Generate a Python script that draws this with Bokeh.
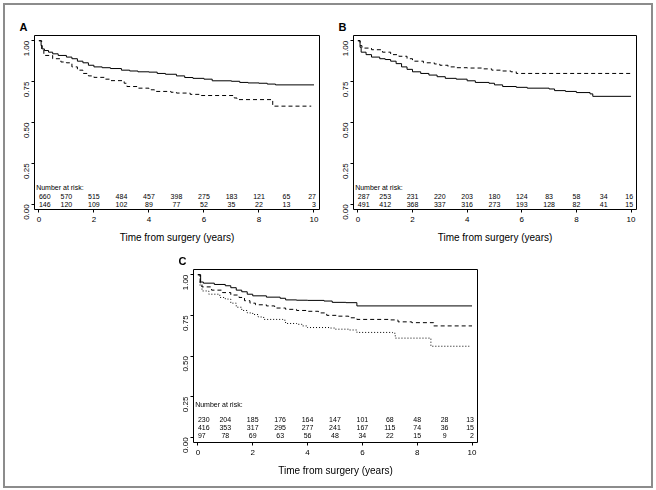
import math
from bokeh.plotting import figure
from bokeh.models import ColumnDataSource, FixedTicker, Range1d, Spacer, NumeralTickFormatter, Div
from bokeh.layouts import column, row
from bokeh.core.properties import value
from bokeh.embed import file_html
from bokeh.resources import INLINE

FONT = "Liberation Sans"

# at-risk time points (years)
risk_years = [0, 1, 2, 3, 4, 5, 6, 7, 8, 9, 10]

# ---- Panel A ----
a_solid_t = [0, 0.08, 0.12, 0.2, 0.35, 0.5, 0.7, 1.0, 1.2, 1.4, 1.6, 1.8, 2.0, 2.3, 2.6, 3.0, 3.3, 3.6, 4.0, 4.3, 4.6, 5.0, 5.3, 5.6, 6.0, 6.3, 7.0, 7.3, 7.6, 8.0, 8.3, 8.6, 10.0]
a_solid_s = [1.0, 0.97, 0.95, 0.94, 0.93, 0.92, 0.91, 0.90, 0.89, 0.875, 0.865, 0.85, 0.84, 0.835, 0.83, 0.82, 0.815, 0.81, 0.808, 0.80, 0.795, 0.785, 0.775, 0.77, 0.765, 0.755, 0.752, 0.745, 0.742, 0.74, 0.735, 0.73, 0.73]
a_dash_t = [0, 0.1, 0.18, 0.5, 0.8, 1.0, 1.2, 1.4, 1.6, 1.8, 2.0, 2.4, 2.6, 3.1, 3.2, 3.6, 4.0, 4.2, 4.8, 5.0, 5.5, 5.9, 7.1, 7.2, 8.5, 9.9]
a_dash_s = [1.0, 0.95, 0.91, 0.89, 0.87, 0.865, 0.84, 0.82, 0.80, 0.785, 0.776, 0.765, 0.756, 0.74, 0.72, 0.71, 0.70, 0.69, 0.685, 0.68, 0.672, 0.665, 0.65, 0.64, 0.60, 0.60]
a_risk_1 = [660, 570, 515, 484, 457, 398, 275, 183, 121, 65, 27]
a_risk_2 = [146, 120, 109, 102, 89, 77, 52, 35, 22, 13, 3]

# ---- Panel B ----
b_solid_t = [0, 0.08, 0.12, 0.3, 0.5, 0.8, 1.0, 1.2, 1.4, 1.6, 1.8, 2.0, 2.3, 2.6, 2.9, 3.2, 3.6, 4.0, 4.3, 4.8, 5.0, 5.3, 5.8, 6.2, 7.0, 7.2, 7.6, 8.0, 8.5, 8.6, 10.0]
b_solid_s = [1.0, 0.96, 0.93, 0.915, 0.90, 0.89, 0.885, 0.875, 0.86, 0.84, 0.825, 0.81, 0.80, 0.79, 0.78, 0.77, 0.765, 0.755, 0.745, 0.74, 0.73, 0.72, 0.715, 0.71, 0.705, 0.695, 0.69, 0.683, 0.675, 0.66, 0.66]
b_dash_t = [0, 0.08, 0.15, 0.5, 0.9, 1.2, 1.5, 1.8, 2.0, 2.4, 2.8, 3.0, 3.3, 3.6, 4.0, 4.6, 4.9, 5.3, 5.6, 5.8, 10.0]
b_dash_s = [1.0, 0.97, 0.955, 0.945, 0.93, 0.915, 0.905, 0.89, 0.875, 0.865, 0.858, 0.85, 0.84, 0.835, 0.833, 0.828, 0.82, 0.815, 0.81, 0.80, 0.80]
b_risk_1 = [287, 253, 231, 220, 203, 180, 124, 83, 58, 34, 16]
b_risk_2 = [491, 412, 368, 337, 316, 273, 193, 128, 82, 41, 15]

# ---- Panel C ----
c_solid_t = [0, 0.1, 0.2, 0.6, 1.0, 1.2, 1.4, 1.6, 1.8, 2.0, 2.5, 3.0, 3.2, 3.6, 4.0, 4.6, 4.9, 5.4, 5.8, 10.0]
c_solid_s = [1.0, 0.955, 0.948, 0.94, 0.932, 0.92, 0.905, 0.895, 0.88, 0.87, 0.862, 0.855, 0.845, 0.843, 0.842, 0.838, 0.83, 0.828, 0.808, 0.808]
c_dash_t = [0, 0.08, 0.15, 0.5, 0.9, 1.2, 1.5, 1.7, 1.9, 2.1, 2.5, 2.8, 3.2, 3.6, 4.0, 4.4, 4.7, 5.1, 5.5, 5.8, 7.0, 7.3, 7.8, 8.6, 10.0]
c_dash_s = [1.0, 0.95, 0.925, 0.905, 0.89, 0.875, 0.86, 0.84, 0.825, 0.815, 0.808, 0.795, 0.787, 0.78, 0.775, 0.765, 0.75, 0.745, 0.735, 0.725, 0.722, 0.71, 0.705, 0.685, 0.685]
c_dot_t = [0, 0.08, 0.15, 0.4, 0.8, 1.0, 1.2, 1.4, 1.6, 1.8, 2.0, 2.2, 2.4, 3.1, 3.2, 3.6, 3.8, 4.0, 4.8, 5.0, 5.5, 5.8, 7.1, 7.2, 8.4, 8.5, 9.9]
c_dot_s = [1.0, 0.93, 0.90, 0.88, 0.86, 0.85, 0.825, 0.80, 0.78, 0.765, 0.755, 0.74, 0.725, 0.72, 0.70, 0.695, 0.685, 0.675, 0.672, 0.665, 0.66, 0.645, 0.64, 0.61, 0.61, 0.56, 0.56]
c_risk_1 = [230, 204, 185, 176, 164, 147, 101, 68, 48, 28, 13]
c_risk_2 = [416, 353, 317, 295, 277, 241, 167, 115, 74, 36, 15]
c_risk_3 = [97, 78, 69, 63, 56, 48, 34, 22, 15, 9, 2]

x_ticks = [0, 2, 4, 6, 8, 10]
y_ticks = [0, 0.25, 0.5, 0.75, 1.0]


def make_panel(letter, curves, risk_rows, header_y, row_ys, frame_w, frame_h, bl, br, bt, bb):
    p = figure(width=bl + frame_w + br, height=bt + frame_h + bb,
               x_range=Range1d(-0.16, 10.2), y_range=Range1d(-0.032, 1.032),
               output_backend="svg", toolbar_location=None,
               min_border_left=bl, min_border_right=br,
               min_border_top=bt, min_border_bottom=bb)
    p.grid.visible = False
    p.outline_line_color = "black"
    p.outline_line_width = 1
    p.outline_line_alpha = 1
    p.background_fill_color = "white"
    p.border_fill_color = "white"

    p.title.text = letter
    p.title.text_font = FONT
    p.title.text_font_size = "11px"
    p.title.text_font_style = "bold"
    p.title.text_color = "black"
    p.title.align = "left"
    p.title.offset = -15
    p.title.standoff = 6

    for ax in (p.xaxis, p.yaxis):
        ax.axis_line_color = None
        ax.major_tick_in = 0
        ax.major_tick_out = 3
        ax.minor_tick_line_color = None
        ax.major_tick_line_color = "black"
        ax.major_label_text_font = FONT
        ax.major_label_text_font_size = "8px"
        ax.major_label_text_color = "black"
    p.xaxis.ticker = FixedTicker(ticks=x_ticks)
    p.yaxis.ticker = FixedTicker(ticks=y_ticks)
    p.yaxis.formatter = NumeralTickFormatter(format="0.00")
    p.yaxis.major_label_orientation = math.pi / 2
    p.yaxis.major_label_standoff = 5
    p.xaxis.major_label_standoff = 4
    p.xaxis.axis_label = "Time from surgery (years)"
    p.xaxis.axis_label_text_font = FONT
    p.xaxis.axis_label_text_font_size = "10px"
    p.xaxis.axis_label_text_font_style = "normal"
    p.xaxis.axis_label_text_color = "black"
    p.xaxis.axis_label_standoff = 7

    for t, s, dash in curves:
        src = ColumnDataSource(dict(t=t, s=s))
        p.step(x="t", y="s", source=src, mode="after", line_color="black",
               line_width=1, line_dash=dash)

    p.text(x=[-0.1], y=[header_y], text=["Number at risk:"], text_font=value(FONT),
           text_font_size="7px", text_align="left", text_baseline="middle",
           text_color="black")
    n = len(risk_years)
    aligns = ["left"] + ["center"] * (n - 2) + ["right"]
    offs = [0] + [0] * (n - 2) + [2]
    for vals, yv in zip(risk_rows, row_ys):
        src = ColumnDataSource(dict(x=risk_years, y=[yv] * n, txt=[str(v) for v in vals],
                                    al=aligns, xo=offs))
        p.text(x="x", y="y", text="txt", source=src, text_font=value(FONT),
               text_font_size="7px", text_align="al", x_offset="xo",
               text_baseline="middle", text_color="black")
    return p


pA = make_panel("A", [(a_solid_t, a_solid_s, "solid"), (a_dash_t, a_dash_s, "4 3")],
                [a_risk_1, a_risk_2], 0.103, [0.046, -0.002], 285, 174, 32, 9, 33, 40)
pB = make_panel("B", [(b_solid_t, b_solid_s, "solid"), (b_dash_t, b_dash_s, "4 3")],
                [b_risk_1, b_risk_2], 0.1, [0.046, -0.002], 283, 174, 25, 10, 33, 40)
pC = make_panel("C", [(c_solid_t, c_solid_s, "solid"), (c_dash_t, c_dash_s, "4 3"),
                      (c_dot_t, c_dot_s, "1 2")],
                [c_risk_1, c_risk_2, c_risk_3], 0.203, [0.112, 0.059, 0.014], 284, 174, 33, 10, 19, 38)

# outer grey frame of the figure
frame_box = Div(width=1, height=1, text=(
    '<div style="position:fixed;left:3px;top:3px;width:650px;height:485px;'
    'border:2px solid #8c8c8c;box-sizing:border-box;pointer-events:none"></div>'
))

layout = column(row(pA, pB, frame_box), row(Spacer(width=158, height=10), pC),
                styles={"border": "2px solid transparent"})

open("out.html", "w").write(file_html(layout, INLINE))
